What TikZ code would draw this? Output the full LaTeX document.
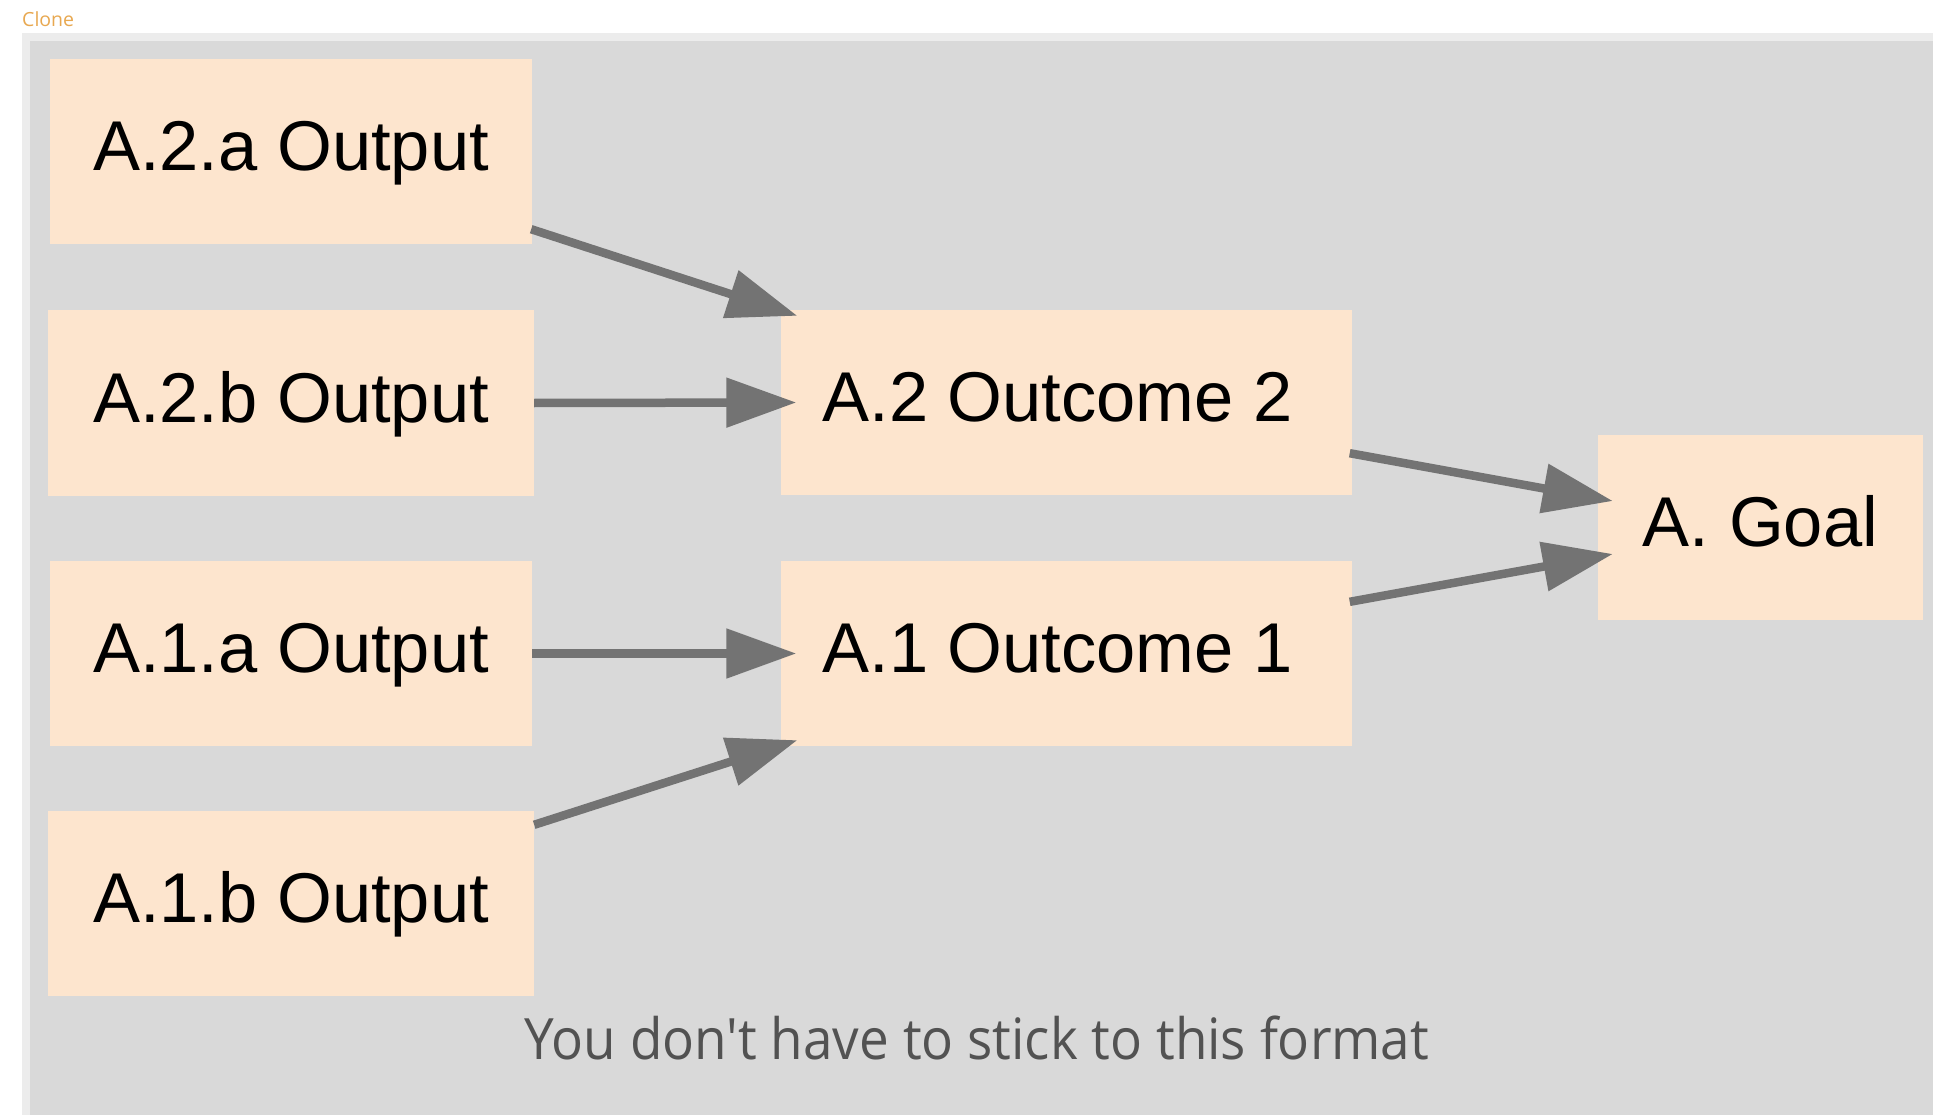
\documentclass[tikz,border=0pt]{standalone}
\usepackage{fontspec}
\setmainfont{Liberation Sans}
\newfontfamily\uifont{Open Sans}
\usetikzlibrary{arrows.meta,calc}

\definecolor{panelband}{RGB}{236,236,236}
\definecolor{panelgray}{RGB}{217,217,217}
\definecolor{boxfill}{RGB}{253,229,206}
\definecolor{edgegray}{RGB}{115,115,115}
\definecolor{notegray}{RGB}{82,82,82}
\definecolor{tagorange}{RGB}{232,168,80}

\tikzset{
  box/.style={fill=boxfill, draw=none, inner sep=0pt, minimum height=185pt,
    text height=50pt, text depth=12pt,
    font=\fontsize{70.5}{80}\selectfont},
  link/.style={draw=edgegray, line width=8.5pt,
    -{Triangle[length=70pt,width=48pt]}},
}

\begin{document}
\begin{tikzpicture}[x=1pt,y=-1pt]
  \useasboundingbox (0,0) rectangle (1933,1115);
  \fill[white] (0,0) rectangle (1933,1115);

  % panel frame
  \fill[panelband] (22,33) rectangle (1933,1115);
  \fill[panelgray] (30,41) rectangle (1933,1115);
  \node[anchor=base west, inner sep=0pt, text=tagorange,
        font=\uifont\fontsize{19.5}{23}\selectfont] (tag) at (22,26.7) {Clone};

  % outputs
  \node[box, minimum width=482pt] (a2a) at (291,151.5) {A.2.a Output};
  \node[box, minimum width=486pt] (a2b) at (291,403)   {A.2.b Output};
  \node[box, minimum width=482pt] (a1a) at (291,653.5) {A.1.a Output};
  \node[box, minimum width=486pt] (a1b) at (291,903.5) {A.1.b Output};

  % outcomes (labels sit a little left of centre)
  \node[box, minimum width=571pt] (a2) at (1066,402.5) {A.2 Outcome 2\kern17pt};
  \node[box, minimum width=571pt] (a1) at (1066,653.5) {A.1 Outcome 1\kern17pt};

  % goal
  \node[box, minimum width=325pt] (goal) at (1760.5,527.5) {A. Goal};

  % connectors
  \draw[link] ($(a2a.south east)+(-1,-15)$) -- ($(a2.north west)+(17,6)$);
  \draw[link] (a2b.east) -- ($(a2.west)+(16,0)$);
  \draw[link] (a1a.east) -- ($(a1.west)+(16,0)$);
  \draw[link] ($(a1b.north east)+(0,14)$) -- ($(a1.south west)+(17,-6)$);
  \draw[link] ($(a2.south east)+(-2,-42)$) -- ($(goal.west)+(15,-26.5)$);
  \draw[link] ($(a1.north east)+(-2,41)$) -- ($(goal.west)+(15,26.5)$);

  % note
  \node[anchor=base, inner sep=0pt, text=notegray,
        font=\uifont\fontsize{57}{64}\selectfont] (note) at (977,1059)
        {\scalebox{0.93}[1]{You don't have to stick to this format}};
\end{tikzpicture}
\end{document}
